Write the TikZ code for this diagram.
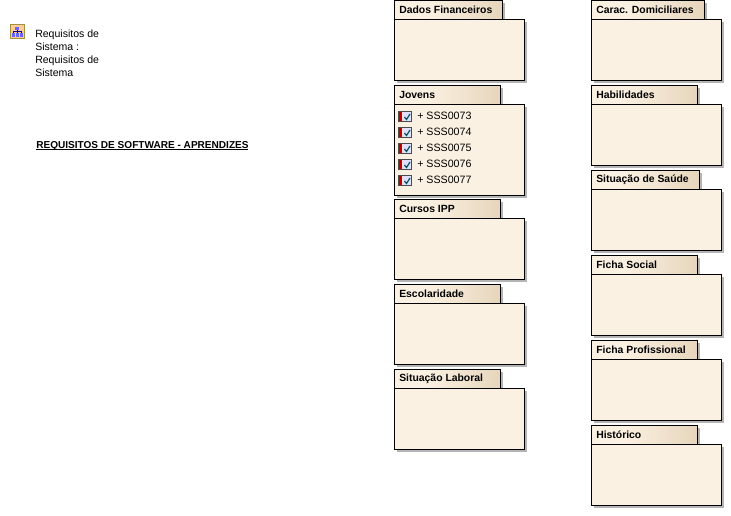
\documentclass[tikz,border=0pt]{standalone}
\usepackage{fontspec}
\setmainfont{Liberation Sans}
\definecolor{pkgfill}{HTML}{FBF1E2}
\definecolor{tabend}{HTML}{E6D5BC}
\definecolor{shadowgrey}{HTML}{B4B4B4}
\tikzset{
  x=0.75pt,y=-0.75pt,
  pkgbody/.style={draw=black,line width=0.75pt,fill=pkgfill,inner sep=0pt,minimum width=97.5pt,anchor=north west},
  pkgtab/.style={draw=black,line width=0.75pt,inner sep=0pt,anchor=north west,minimum height=14.25pt},
  tablabel/.style={font=\bfseries\fontsize{7.8}{9}\selectfont,anchor=west,inner sep=0pt,text=black},
  itemlabel/.style={font=\fontsize{8}{9}\selectfont,anchor=west,inner sep=0pt,text=black},
  plain/.style={font=\fontsize{7.9}{9.75}\selectfont,anchor=north west,inner sep=0pt,align=left,text=black},
}
% #1 name, #2 left x, #3 top y, #4 tab width px, #5 body height px, #6 label
\newcommand{\pkg}[6]{%
  \fill[shadowgrey] (#2+3,#3+3) rectangle (#2+#4+3,#3+19);
  \fill[shadowgrey] (#2+3,#3+22) rectangle (#2+133,#3+22+#5);
  \fill[pkgfill] (#2,#3) rectangle (#2+#4,#3+19);
  \foreach \s in {0,...,30}{%
    \pgfmathsetmacro{\mixv}{100*\s/30}%
    \fill[tabend!\mixv!pkgfill] ({#2+#4*(0.3+0.7*\s/30)},#3) rectangle (#2+#4,#3+19);
  }
  \node[pkgtab,minimum width=#4*0.75pt] (#1tab) at (#2,#3) {};
  \node[pkgbody,minimum height=#5*0.75pt] (#1) at (#2,#3+19) {};
  \node[tablabel] (#1lab) at (#2+5,#3+10) {#6};
}
% #1 name, #2 y centre, #3 label
\newcommand{\reqitem}[3]{%
  \draw[line width=0.5pt,draw=black!70,fill=blue!12] (398,#2-4.5) rectangle (411.5,#2+5.5);
  \fill[red!75!black] (398.5,#2-4) rectangle (402,#2+5);
  \fill[white!60!pink] (402,#2-4) rectangle (403,#2+5);
  \draw[line width=0.9pt,draw=teal!70!black] (404.5,#2+1) -- (406.5,#2+3.5) -- (410,#2-2);
  \node[itemlabel] (#1) at (417,#2) {+ #3};
}
\begin{document}
\begin{tikzpicture}
\useasboundingbox (0,0) rectangle (731,515);
\fill[white] (0,0) rectangle (731,515);
% icon
\draw[line width=0.9pt,draw=black!50!yellow!80!orange,fill=orange!40] (10.5,24.5) rectangle (24.5,38.5);
\fill[blue!60] (15,26.5) rectangle (19,30);
\fill[blue!60] (12,32.5) rectangle (15,36.5);
\fill[blue!60] (16,32.5) rectangle (19,36.5);
\fill[blue!60] (20,32.5) rectangle (23,36.5);
\draw[line width=0.5pt,blue!60!black] (17,30) -- (17,33) (13.5,33) -- (13.5,31.5) -- (21.5,31.5) -- (21.5,33);
\node[plain] (title) at (35,29.5) {Requisitos de\\Sistema :\\Requisitos de\\Sistema};
\node[font=\bfseries\fontsize{7.55}{9}\selectfont,anchor=base west,inner sep=0pt] (heading) at (36,148.5) {\rlap{\rule[-1.1pt]{159pt}{0.6pt}}REQUISITOS DE SOFTWARE - APRENDIZES};
% left column
\pkg{dados}{394}{0}{107.5}{61}{Dados Financeiros}
\pkg{jovens}{394}{85}{105.5}{91}{Jovens}
\pkg{cursos}{394}{199}{105.5}{61}{Cursos IPP}
\pkg{escol}{394}{284}{105.5}{61}{Escolaridade}
\pkg{laboral}{394}{369}{105.5}{61}{Situação Laboral}
% right column
\pkg{carac}{591}{0}{112.5}{61}{Carac. Domiciliares}
\pkg{habil}{591}{85}{105.5}{61}{Habilidades}
\pkg{saude}{591}{170}{107.5}{61}{Situação de Saúde}
\pkg{social}{591}{255}{105.5}{61}{Ficha Social}
\pkg{prof}{591}{340}{105.5}{61}{Ficha Profissional}
\pkg{hist}{591}{425}{105.5}{61}{Histórico}
% items
\reqitem{ia}{116}{SSS0073}
\reqitem{ib}{132}{SSS0074}
\reqitem{ic}{148}{SSS0075}
\reqitem{id}{164}{SSS0076}
\reqitem{ie}{180}{SSS0077}
\end{tikzpicture}
\end{document}
